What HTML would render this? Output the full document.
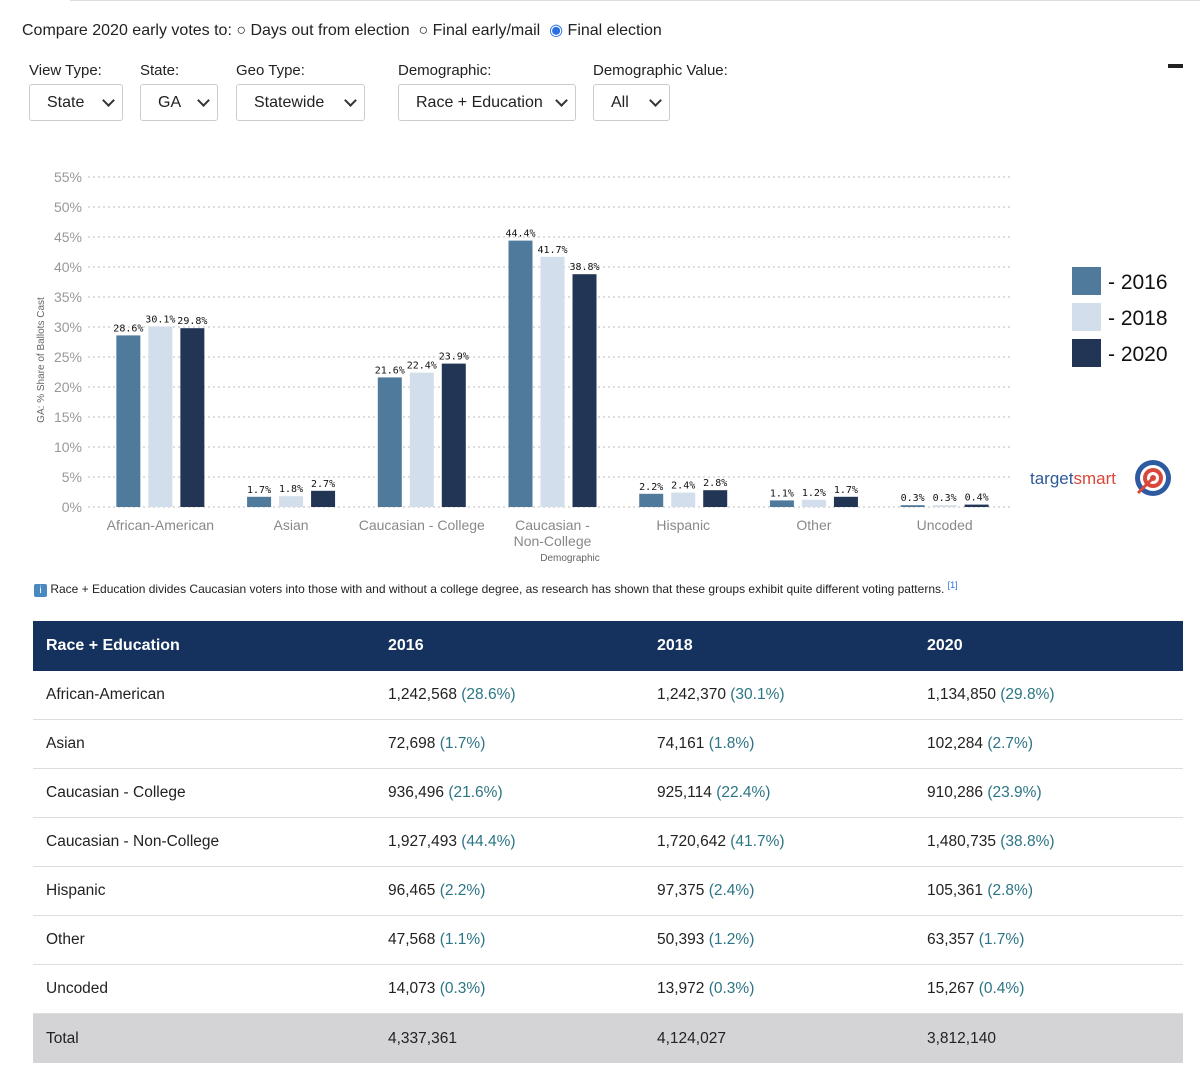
<!DOCTYPE html>
<html><head><meta charset="utf-8"><style>
body{margin:0;width:1200px;height:1077px;background:#fff;font-family:"Liberation Sans",sans-serif;color:#222;position:relative;overflow:hidden}
.abs{position:absolute}
.sel{position:absolute;top:84px;height:37px;border:1px solid #ccc;border-radius:3px;box-sizing:border-box;font-size:16px;line-height:35px;color:#222}
.sel span{position:absolute;left:17px}
.sel i{position:absolute;right:9px;top:11px;width:7px;height:7px;border-right:2px solid #333;border-bottom:2px solid #333;transform:rotate(45deg)}
.lab{position:absolute;top:62px;font-size:15px;color:#222}
table{position:absolute;left:33px;top:621px;width:1150px;border-collapse:collapse;font-size:15.5px}
td{height:48px;border-bottom:1px solid #ddd;padding:0 0 0 13px}
th{height:50px;background:#15325f;color:#fff;text-align:left;padding:0 0 0 13px;font-size:16px}
.p{color:#2c7585}
tr.tot td{background:#d4d4d6;border:none;height:49px}
</style></head><body>
<div class="abs" style="left:70px;top:0;width:1130px;height:1px;background:#ddd"></div>
<div class="abs" style="left:22px;top:20px;font-size:16px">Compare 2020 early votes to:
<span>○ Days out from election</span>&nbsp;
<span>○ Final early/mail</span>&nbsp;
<span><span style="color:#2a6fe0">◉</span> Final election</span></div>
<div class="lab" style="left:29px">View Type:</div>
<div class="lab" style="left:140px">State:</div>
<div class="lab" style="left:236px">Geo Type:</div>
<div class="lab" style="left:398px">Demographic:</div>
<div class="lab" style="left:593px">Demographic Value:</div>
<div class="sel" style="left:29px;width:94px"><span>State</span><i></i></div>
<div class="sel" style="left:140px;width:78px"><span>GA</span><i></i></div>
<div class="sel" style="left:236px;width:129px"><span>Statewide</span><i></i></div>
<div class="sel" style="left:398px;width:178px"><span>Race + Education</span><i></i></div>
<div class="sel" style="left:593px;width:77px"><span>All</span><i></i></div>
<div class="abs" style="left:1168px;top:64px;width:15px;height:4px;background:#222"></div>

<svg class="abs" style="left:0;top:150px" width="1200" height="460" id="chart"></svg>

<div class="abs" style="left:34px;top:580px;font-size:12px;color:#222"><span style="display:inline-block;width:13px;height:13px;background:#4a88c0;color:#fff;font-size:10px;text-align:center;line-height:13px;border-radius:2px">i</span> Race + Education divides Caucasian voters into those with and without a college degree, as research has shown that these groups exhibit quite different voting patterns. <sup style="color:#2a6fe0;font-size:9px">[1]</sup></div>

<table>
<tr><th style="width:329px">Race + Education</th><th style="width:256px">2016</th><th style="width:257px">2018</th><th>2020</th></tr>
<tr><td>African-American</td><td>1,242,568 <span class="p">(28.6%)</span></td><td>1,242,370 <span class="p">(30.1%)</span></td><td>1,134,850 <span class="p">(29.8%)</span></td></tr>
<tr><td>Asian</td><td>72,698 <span class="p">(1.7%)</span></td><td>74,161 <span class="p">(1.8%)</span></td><td>102,284 <span class="p">(2.7%)</span></td></tr>
<tr><td>Caucasian - College</td><td>936,496 <span class="p">(21.6%)</span></td><td>925,114 <span class="p">(22.4%)</span></td><td>910,286 <span class="p">(23.9%)</span></td></tr>
<tr><td>Caucasian - Non-College</td><td>1,927,493 <span class="p">(44.4%)</span></td><td>1,720,642 <span class="p">(41.7%)</span></td><td>1,480,735 <span class="p">(38.8%)</span></td></tr>
<tr><td>Hispanic</td><td>96,465 <span class="p">(2.2%)</span></td><td>97,375 <span class="p">(2.4%)</span></td><td>105,361 <span class="p">(2.8%)</span></td></tr>
<tr><td>Other</td><td>47,568 <span class="p">(1.1%)</span></td><td>50,393 <span class="p">(1.2%)</span></td><td>63,357 <span class="p">(1.7%)</span></td></tr>
<tr><td>Uncoded</td><td>14,073 <span class="p">(0.3%)</span></td><td>13,972 <span class="p">(0.3%)</span></td><td>15,267 <span class="p">(0.4%)</span></td></tr>
<tr class="tot"><td>Total</td><td>4,337,361</td><td>4,124,027</td><td>3,812,140</td></tr>
</table>

<script>
const categories=["African-American","Asian","Caucasian - College","Caucasian - Non-College","Hispanic","Other","Uncoded"];
const v2016=[28.6,1.7,21.6,44.4,2.2,1.1,0.3];
const v2018=[30.1,1.8,22.4,41.7,2.4,1.2,0.3];
const v2020=[29.8,2.7,23.9,38.8,2.8,1.7,0.4];
const years=["2016","2018","2020"];
const yTicks=[0,5,10,15,20,25,30,35,40,45,50,55];
const colors=["#4f7a9c","#d3deec","#223555"];
const series=[v2016,v2018,v2020];
const svg=document.getElementById('chart');
const NS="http://www.w3.org/2000/svg";
const X0=95,X1=1010,Y0=357,PPU=6;
const y=v=>Y0-v*PPU;
const step=(X1-X0)/categories.length;
const cx=i=>X0+step*(i+0.5);
function mk(t,a,txt){const e=document.createElementNS(NS,t);for(const k in a)e.setAttribute(k,a[k]);if(txt!==undefined)e.textContent=txt;svg.appendChild(e);return e;}
yTicks.forEach(t=>{
 const l=mk('line',{x1:88,x2:1012,y1:y(t),y2:y(t),stroke:'#bbb','stroke-dasharray':'2,3'});
 
 
 const tx=mk('text',{x:82,y:y(t)+5,'text-anchor':'end','font-size':14,fill:'#999'},t+'%');
 
 
});
categories.forEach((c,i)=>{
 series.forEach((s,j)=>{
  const bx=cx(i)+(j-1)*32-12;
  const r=mk('rect',{x:bx,y:y(s[i]),width:24,height:s[i]*PPU,fill:colors[j]});
  
  
  const t=mk('text',{x:bx+12,y:y(s[i])-4,'text-anchor':'middle','font-size':10,fill:'#111','font-family':'DejaVu Sans Mono, monospace'},s[i].toFixed(1)+'%');
  
  
 });
 const parts=c==="Caucasian - Non-College"?["Caucasian -","Non-College"]:[c];
 parts.forEach((p,k)=>{
  const t=mk('text',{x:cx(i),y:380+k*16,'text-anchor':'middle','font-size':14,fill:'#888'},p);
  
  
 });
});
const xt=mk('text',{x:570,y:411,'text-anchor':'middle','font-size':10,fill:'#666'},'Demographic');


const yt=mk('text',{x:44,y:210,'text-anchor':'middle','font-size':10,fill:'#666',transform:'rotate(-90 44 210)'},'GA: % Share of Ballots Cast');


years.forEach((yr,j)=>{
 const r=mk('rect',{x:1072,y:117+j*36,width:29,height:28,fill:colors[j]});
 
 
 const t=mk('text',{x:1108,y:139+j*36,'font-size':21,fill:'#111'},'- '+yr);
 
 
});
const lg=mk('text',{x:1030,y:334,'font-size':17,fill:'#2d5a95'},'target');


const ls=mk('tspan',{fill:'#d9473b'},'smart');lg.appendChild(ls);
[[18,'#2d5aa0'],[13,'#fff'],[10,'#d9473b'],[6,'#fff'],[3,'#d9473b']].forEach(([r,f])=>mk('circle',{cx:1153,cy:328,r:r,fill:f}));
mk('line',{x1:1153,y1:328,x2:1138,y2:343,stroke:'#d9473b','stroke-width':3});
</script>
</body></html>
